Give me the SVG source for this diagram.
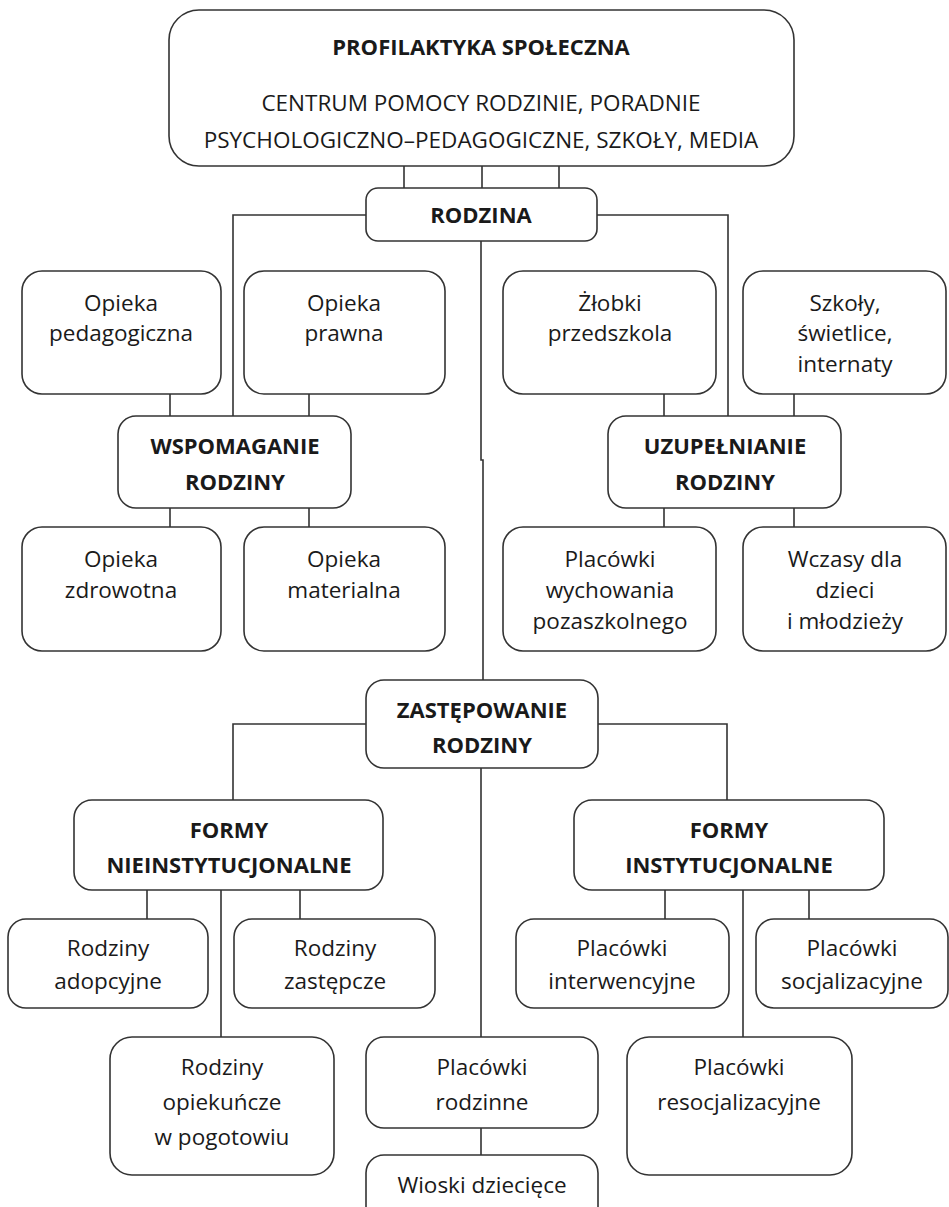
<svg xmlns="http://www.w3.org/2000/svg" width="949" height="1207" viewBox="0 0 949 1207">
<style>
  .box { fill: #ffffff; stroke: #333333; stroke-width: 1.6; }
  .ln { fill: none; stroke: #333333; stroke-width: 1.6; }
  text { font-family: "Open Sans", "Liberation Sans", sans-serif; font-size: 22.5px; fill: #1a1a1a; text-anchor: middle; }
  .b { font-weight: bold; font-size: 22px; }
</style>
<rect width="949" height="1207" fill="#ffffff"/>
<g id="connectors">
  <path class="ln" d="M404 166V188M482 166V188M559 166V188"/>
  <path class="ln" d="M366 215H233V416M597 215H728V416"/>
  <path class="ln" d="M481 241V460H483V680"/>
  <path class="ln" d="M170 394V416M309 394V416M170 508V527M309 508V527"/>
  <path class="ln" d="M664 394V416M794 394V416M664 508V527M794 508V527"/>
  <path class="ln" d="M366 724H233V800M598 724H727V800"/>
  <path class="ln" d="M481 768V1037M481 1128V1155"/>
  <path class="ln" d="M147 890V919M300 890V919M221 890V1037"/>
  <path class="ln" d="M665 890V919M809 890V919M743 890V1037"/>
</g>
<g id="profilaktyka">
  <rect class="box" x="169" y="10" width="625" height="156" rx="30"/>
  <text class="b" x="481" y="55">PROFILAKTYKA SPOŁECZNA</text>
  <text x="481" y="111">CENTRUM POMOCY RODZINIE, PORADNIE</text>
  <text x="481" y="148">PSYCHOLOGICZNO–PEDAGOGICZNE, SZKOŁY, MEDIA</text>
</g>
<g id="rodzina">
  <rect class="box" x="366" y="188" width="231" height="53" rx="12"/>
  <text class="b" x="481" y="223">RODZINA</text>
</g>
<g id="opieka-pedagogiczna">
  <rect class="box" x="22" y="271" width="199" height="123" rx="20"/>
  <text x="121" y="311">Opieka</text>
  <text x="121" y="341">pedagogiczna</text>
</g>
<g id="opieka-prawna">
  <rect class="box" x="244" y="271" width="201" height="123" rx="20"/>
  <text x="344" y="311">Opieka</text>
  <text x="344" y="341">prawna</text>
</g>
<g id="zlobki">
  <rect class="box" x="503" y="271" width="213" height="123" rx="20"/>
  <text x="610" y="311">Żłobki</text>
  <text x="610" y="341">przedszkola</text>
</g>
<g id="szkoly">
  <rect class="box" x="743" y="271" width="203" height="123" rx="20"/>
  <text x="845" y="311">Szkoły,</text>
  <text x="845" y="341">świetlice,</text>
  <text x="845" y="372">internaty</text>
</g>
<g id="wspomaganie">
  <rect class="box" x="118" y="416" width="233" height="92" rx="18"/>
  <text class="b" x="235" y="454">WSPOMAGANIE</text>
  <text class="b" x="235" y="490">RODZINY</text>
</g>
<g id="uzupelnianie">
  <rect class="box" x="608" y="416" width="233" height="92" rx="18"/>
  <text class="b" x="725" y="454">UZUPEŁNIANIE</text>
  <text class="b" x="725" y="490">RODZINY</text>
</g>
<g id="opieka-zdrowotna">
  <rect class="box" x="22" y="527" width="199" height="124" rx="20"/>
  <text x="121" y="567">Opieka</text>
  <text x="121" y="598">zdrowotna</text>
</g>
<g id="opieka-materialna">
  <rect class="box" x="244" y="527" width="201" height="124" rx="20"/>
  <text x="344" y="567">Opieka</text>
  <text x="344" y="598">materialna</text>
</g>
<g id="placowki-wychowania">
  <rect class="box" x="503" y="527" width="213" height="124" rx="20"/>
  <text x="610" y="567">Placówki</text>
  <text x="610" y="598">wychowania</text>
  <text x="610" y="629">pozaszkolnego</text>
</g>
<g id="wczasy">
  <rect class="box" x="743" y="527" width="203" height="124" rx="20"/>
  <text x="845" y="567">Wczasy dla</text>
  <text x="845" y="598">dzieci</text>
  <text x="845" y="629">i młodzieży</text>
</g>
<g id="zastepowanie">
  <rect class="box" x="366" y="680" width="232" height="88" rx="18"/>
  <text class="b" x="482" y="718">ZASTĘPOWANIE</text>
  <text class="b" x="482" y="753">RODZINY</text>
</g>
<g id="formy-nieinstytucjonalne">
  <rect class="box" x="74" y="800" width="309" height="90" rx="18"/>
  <text class="b" x="229" y="838">FORMY</text>
  <text class="b" x="229" y="873">NIEINSTYTUCJONALNE</text>
</g>
<g id="formy-instytucjonalne">
  <rect class="box" x="574" y="800" width="310" height="90" rx="18"/>
  <text class="b" x="729" y="838">FORMY</text>
  <text class="b" x="729" y="873">INSTYTUCJONALNE</text>
</g>
<g id="rodziny-adopcyjne">
  <rect class="box" x="8" y="919" width="200" height="89" rx="18"/>
  <text x="108" y="956">Rodziny</text>
  <text x="108" y="989">adopcyjne</text>
</g>
<g id="rodziny-zastepcze">
  <rect class="box" x="234" y="919" width="201" height="89" rx="18"/>
  <text x="335" y="956">Rodziny</text>
  <text x="335" y="989">zastępcze</text>
</g>
<g id="placowki-interwencyjne">
  <rect class="box" x="516" y="919" width="213" height="89" rx="18"/>
  <text x="622" y="956">Placówki</text>
  <text x="622" y="989">interwencyjne</text>
</g>
<g id="placowki-socjalizacyjne">
  <rect class="box" x="756" y="919" width="192" height="89" rx="18"/>
  <text x="852" y="956">Placówki</text>
  <text x="852" y="989">socjalizacyjne</text>
</g>
<g id="rodziny-opiekuncze">
  <rect class="box" x="110" y="1037" width="224" height="138" rx="22"/>
  <text x="222" y="1075">Rodziny</text>
  <text x="222" y="1110">opiekuńcze</text>
  <text x="222" y="1145">w pogotowiu</text>
</g>
<g id="placowki-rodzinne">
  <rect class="box" x="366" y="1037" width="232" height="91" rx="18"/>
  <text x="482" y="1075">Placówki</text>
  <text x="482" y="1110">rodzinne</text>
</g>
<g id="wioski">
  <rect class="box" x="366" y="1155" width="232" height="70" rx="18"/>
  <text x="482" y="1193">Wioski dziecięce</text>
</g>
<g id="placowki-resocjalizacyjne">
  <rect class="box" x="627" y="1037" width="225" height="138" rx="22"/>
  <text x="739" y="1075">Placówki</text>
  <text x="739" y="1110">resocjalizacyjne</text>
</g>
</svg>
